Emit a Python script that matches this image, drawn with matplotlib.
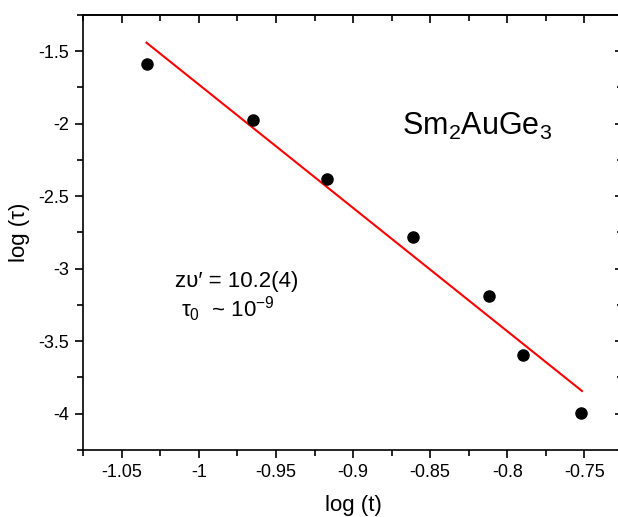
import matplotlib
matplotlib.use("Agg")
import matplotlib.pyplot as plt
import numpy as np
from matplotlib.ticker import MultipleLocator

plt.rcParams["font.family"] = ["Liberation Sans", "DejaVu Sans"]
plt.rcParams["mathtext.fontset"] = "custom"
plt.rcParams["mathtext.rm"] = "Liberation Sans"
plt.rcParams["mathtext.it"] = "Liberation Sans:italic"

# measured points
log_t = [-1.034, -0.965, -0.917, -0.861, -0.812, -0.790, -0.752]
log_tau = [-1.590, -1.974, -2.379, -2.780, -3.186, -3.595, -3.997]

# fitted line end points
fit_x = [-1.034, -0.7515]
fit_y = [-1.441, -3.843]

x_ticks = [-1.05, -1.0, -0.95, -0.9, -0.85, -0.8, -0.75]
x_labels = ["-1.05", "-1", "-0.95", "-0.9", "-0.85", "-0.8", "-0.75"]
y_ticks = [-4, -3.5, -3, -2.5, -2, -1.5]
y_labels = ["-4", "-3.5", "-3", "-2.5", "-2", "-1.5"]

fig = plt.figure(figsize=(6.18, 5.17), dpi=100)
ax = fig.add_axes([0.1348, 0.1296, 0.873, 0.8414])

ax.plot(fit_x, fit_y, color="red", linewidth=1.5, zorder=2)
ax.plot(log_t, log_tau, "o", color="black", markersize=8, zorder=3)

ax.set_xlim(-1.075, -0.725)
ax.set_ylim(-4.25, -1.25)
ax.set_xticks(x_ticks)
ax.set_xticklabels(x_labels)
ax.set_yticks(y_ticks)
ax.set_yticklabels(y_labels)
ax.xaxis.set_minor_locator(MultipleLocator(0.025))
ax.yaxis.set_minor_locator(MultipleLocator(0.25))

for s in ax.spines.values():
    s.set_linewidth(1.2)

# outward ticks on bottom/left, inward on top/right
ax.tick_params(which="both", bottom=True, left=True, top=False, right=False,
               direction="out", width=1.2, labelsize=13)
ax.tick_params(which="major", length=6, pad=4)
ax.tick_params(which="minor", length=4)
sec_x = ax.secondary_xaxis("top")
sec_x.set_xticks(x_ticks)
sec_x.xaxis.set_minor_locator(MultipleLocator(0.025))
sec_x.tick_params(which="both", direction="in", width=1.2, labeltop=False)
sec_x.tick_params(which="major", length=6)
sec_x.tick_params(which="minor", length=4)
sec_x.spines["top"].set_linewidth(1.2)
sec_y = ax.secondary_yaxis("right")
sec_y.set_yticks(y_ticks)
sec_y.yaxis.set_minor_locator(MultipleLocator(0.25))
sec_y.tick_params(which="both", direction="in", width=1.2, labelright=False)
sec_y.tick_params(which="major", length=6)
sec_y.tick_params(which="minor", length=4)

ax.set_xlabel("log (t)", fontsize=16, labelpad=10)
ax.set_ylabel("log (\u03c4)", fontsize=16, labelpad=6)

ax.text(0.591, 0.724, r"Sm$_2$AuGe$_3$", transform=ax.transAxes,
        fontsize=22, ha="left", va="baseline")
ax.text(0.170, 0.375, "z\u03c5\u2032 = 10.2(4)", transform=ax.transAxes,
        fontsize=16, ha="left", va="baseline")
ax.text(0.181, 0.306, "\u03c4$_0$  ~ 10$^{-9}$", transform=ax.transAxes,
        fontsize=16, ha="left", va="baseline")

fig.savefig("out.png", dpi=100)
